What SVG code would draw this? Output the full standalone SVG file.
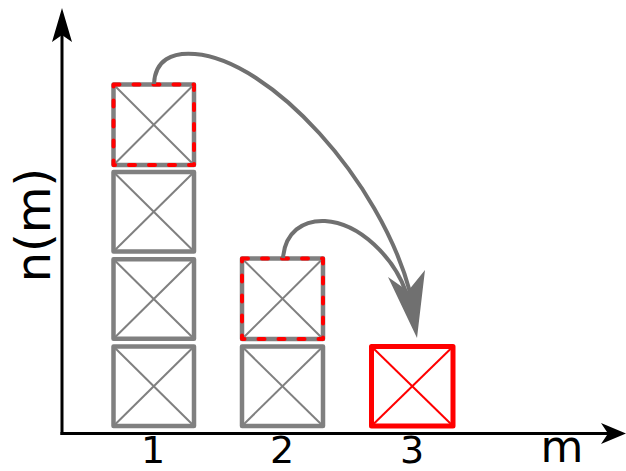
<svg xmlns="http://www.w3.org/2000/svg" width="626" height="471" viewBox="0 0 626 471">
<style>
.box rect{fill:#fff;stroke:#808080;stroke-width:4.5;stroke-linejoin:round}
.box line{stroke:#808080;stroke-width:2}
.red rect{fill:#fff;stroke:#ff0000;stroke-width:5;stroke-linejoin:round}
.red line{stroke:#ff0000;stroke-width:2}
.box rect.dash{fill:none;stroke:#ff0000;stroke-width:4;stroke-dasharray:6 14;stroke-linecap:round}
.arc{fill:none;stroke:#707070;stroke-width:4}
.axis{stroke:#000;stroke-width:3;fill:none}
.lbl{font-family:"DejaVu Sans",sans-serif;fill:#000}
</style>
<g id="axes">
<line class="axis" x1="62" y1="435" x2="62" y2="30"/>
<polygon points="62,8 72,42 62,35 52,42" fill="#000"/>
<line class="axis" x1="60.5" y1="433.5" x2="608" y2="433.5"/>
<polygon points="626,433.5 601,444 608,433.5 601,423" fill="#000"/>
</g>
<g id="box-1-1" class="box"><rect x="113.5" y="346.5" width="80.5" height="79.5"/><line x1="113.5" y1="346.5" x2="194" y2="426"/><line x1="194" y1="346.5" x2="113.5" y2="426"/></g>
<g id="box-1-2" class="box"><rect x="113.5" y="259.3" width="80.5" height="79.5"/><line x1="113.5" y1="259.3" x2="194" y2="338.8"/><line x1="194" y1="259.3" x2="113.5" y2="338.8"/></g>
<g id="box-1-3" class="box"><rect x="113.5" y="172" width="80.5" height="79.5"/><line x1="113.5" y1="172" x2="194" y2="251.5"/><line x1="194" y1="172" x2="113.5" y2="251.5"/></g>
<g id="box-1-4" class="box"><rect x="113.5" y="84.5" width="80.5" height="80.5"/><line x1="113.5" y1="84.5" x2="194" y2="165"/><line x1="194" y1="84.5" x2="113.5" y2="165"/><rect class="dash" x="113.5" y="84.5" width="80.5" height="80.5"/></g>
<g id="box-2-1" class="box"><rect x="242" y="346.5" width="81" height="79.5"/><line x1="242" y1="346.5" x2="323" y2="426"/><line x1="323" y1="346.5" x2="242" y2="426"/></g>
<g id="box-2-2" class="box"><rect x="242" y="258.5" width="81" height="80.5"/><line x1="242" y1="258.5" x2="323" y2="339"/><line x1="323" y1="258.5" x2="242" y2="339"/><rect class="dash" x="242" y="258.5" width="81" height="80.5"/></g>
<g id="box-3-1" class="red"><rect x="371.5" y="346.5" width="81.5" height="79.5"/><line x1="371.5" y1="346.5" x2="453" y2="426"/><line x1="453" y1="346.5" x2="371.5" y2="426"/></g>
<g id="connectors">
<path class="arc" d="M154,84 C155,60 172,52 195,54 C270,60 380,180 410,292"/>
<path class="arc" d="M283,258 C285,232 303,220 325,221 C360,223 394,258 406,292"/>
<polygon points="417,338 388,277 408,291 425,270" fill="#707070"/>
</g>
<g id="labels">
<text class="lbl" x="153" y="463" font-size="38" text-anchor="middle">1</text>
<text class="lbl" x="282" y="463" font-size="38" text-anchor="middle">2</text>
<text class="lbl" x="412" y="463" font-size="38" text-anchor="middle">3</text>
<text class="lbl" x="562" y="462" font-size="44" text-anchor="middle">m</text>
<text class="lbl" transform="translate(50,225) rotate(-90)" font-size="48" text-anchor="middle">n(m)</text>
</g>
</svg>
